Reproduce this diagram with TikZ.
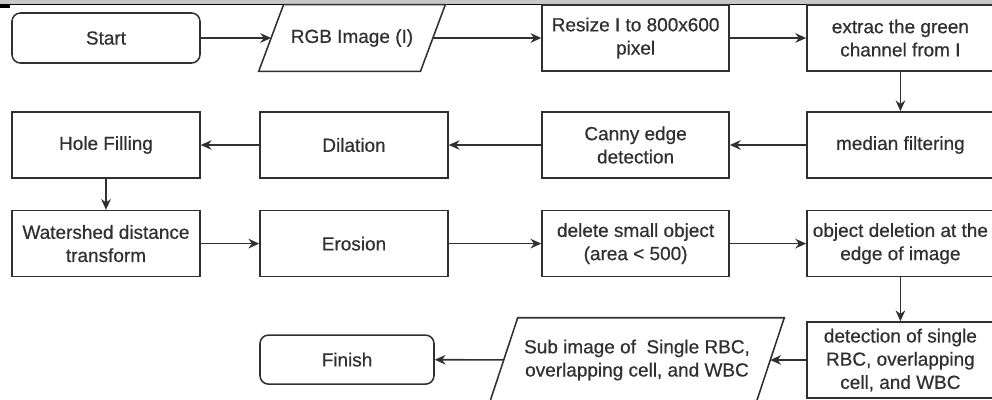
\documentclass[tikz,border=0pt]{standalone}
\usepackage{fontspec}
\setmainfont{Liberation Sans}[FakeBold=0.6]
\usetikzlibrary{arrows.meta}

\definecolor{inkgray}{HTML}{303030}
\definecolor{bargray}{HTML}{C8C8C8}

% parallelogram outline round a data node, #2 is half the slant
\newcommand{\dataoutline}[2]{%
  \draw[outline] ([xshift=#2]#1.north west) -- ([xshift=#2]#1.north east)
    -- ([xshift=-#2]#1.south east) -- ([xshift=-#2]#1.south west) -- cycle;}

\begin{document}
\begin{tikzpicture}[
        font                 = \fontsize{13.5}{16.5}\selectfont,
        every node/.style    = {text=inkgray, align=center},
        outline/.style       = {draw=inkgray, line width=1.1pt},
        process/.style       = {outline, rectangle,
                                minimum width=4.675cm, minimum height=1.65cm, inner sep=2pt},
        terminal/.style      = {process, rounded corners=6pt},
        io/.style            = {rectangle, inner sep=2pt},
        flow/.style          = {outline, -{Stealth[length=0.27cm, width=0.24cm]}},
      ]
    \useasboundingbox (0,0) rectangle (24.8,-9.975);
    % strip along the top edge
    \fill[bargray] (0,0) rectangle (24.8,-0.1);
    \draw[black, line width=1pt] (0,-0.11) -- (24.8,-0.11);
    \fill[black] (0,-0.1) rectangle (0.25,-0.2);

    % first row
    \node[terminal, minimum width=4.7cm, minimum height=1.25cm] (start) at (2.65,-0.95) {Start};
    \node[io, minimum width=4.03cm, minimum height=1.65cm] (rgb) at (8.8,-0.95) {RGB Image (I)};
    \node[process] (resize) at (15.89,-0.95) {Resize I to 800x600\\pixel};
    \node[process] (green) at (22.51,-0.95) {extrac the green\\channel from I};

    % second row
    \node[process, minimum width=4.7cm] (hole) at (2.65,-3.625) {Hole Filling};
    \node[process, minimum width=4.7cm] (dilation) at (8.85,-3.625) {Dilation};
    \node[process] (canny) at (15.89,-3.625) {Canny edge\\detection};
    \node[process] (median) at (22.51,-3.625) {median filtering};

    % third row
    \node[process, minimum width=4.7cm] (watershed) at (2.65,-6.09) {Watershed distance\\transform};
    \node[process, minimum width=4.7cm] (erosion) at (8.85,-6.09) {Erosion};
    \node[process] (small) at (15.89,-6.09) {delete small object\\(area < 500)};
    \node[process] (border) at (22.51,-6.09) {object deletion at the\\edge of image};

    % last row
    \node[terminal, minimum width=4.35cm, minimum height=1.225cm] (finish) at (8.675,-8.99) {Finish};
    \node[io, minimum width=6.65cm, minimum height=2.1cm] (subimg) at (15.925,-9.0)
          {Sub image of~ Single RBC,\\overlapping cell, and WBC};
    \node[process, minimum height=1.9cm] (detect) at (22.51,-9.0) {detection of single\\RBC, overlapping\\cell, and WBC};

    \dataoutline{rgb}{0.31cm}
    \dataoutline{subimg}{0.35cm}

    \draw[flow] (start) -- (rgb);
    \draw[flow] (rgb) -- (resize);
    \draw[flow] (resize) -- (green);
    \draw[flow] (green) -- (median);
    \draw[flow] (median) -- (canny);
    \draw[flow] (canny) -- (dilation);
    \draw[flow] (dilation) -- (hole);
    \draw[flow] (hole) -- (watershed);
    \draw[flow] (watershed) -- (erosion);
    \draw[flow] (erosion) -- (small);
    \draw[flow] (small) -- (border);
    \draw[flow] (border) -- (detect);
    \draw[flow] (detect) -- (subimg);
    \draw[flow] (subimg) -- (finish);
\end{tikzpicture}
\end{document}
